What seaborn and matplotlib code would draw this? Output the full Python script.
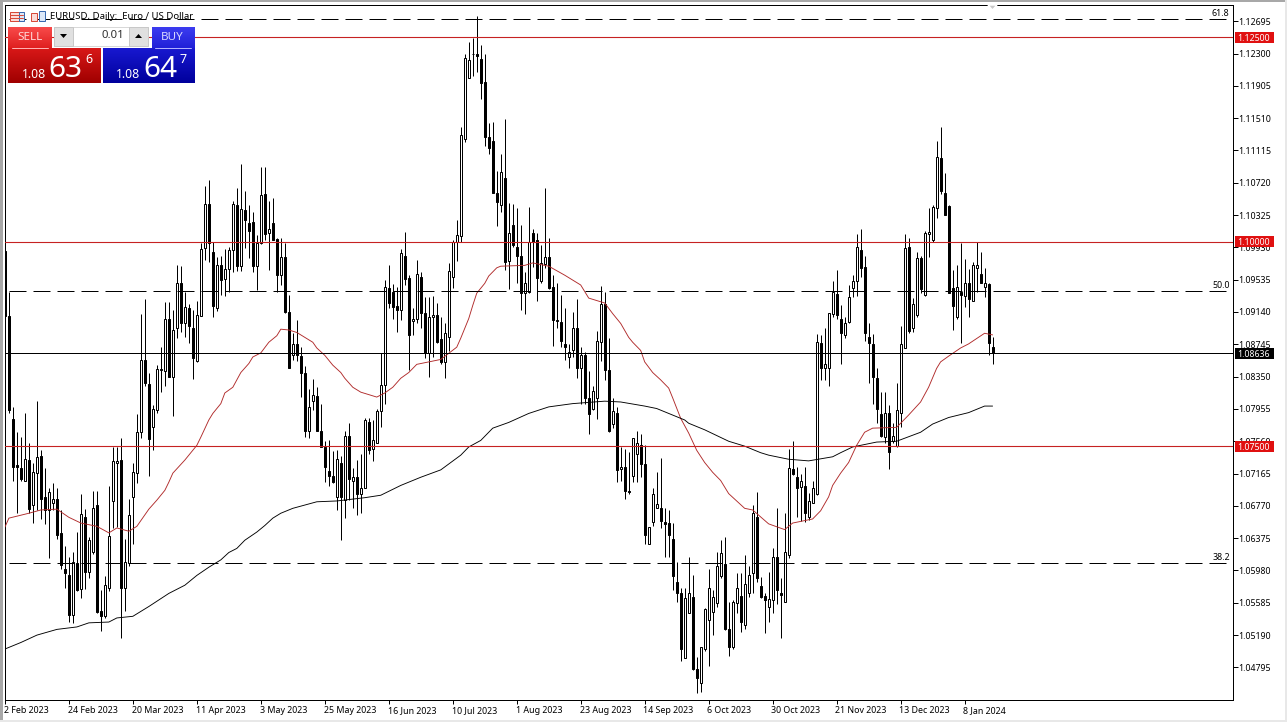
import numpy as np
import pandas as pd
import matplotlib
matplotlib.use('Agg')
import matplotlib.pyplot as plt
import seaborn as sns
from matplotlib.colors import LinearSegmentedColormap
from matplotlib.patches import Rectangle, Polygon
from matplotlib.transforms import blended_transform_factory, ScaledTranslation

# EURUSD daily candles, in 1/10000 of a dollar
opens = [10988,10909,10783,10727,10723,10708,10733,10678,10717,10738,
10688,10672,10681,10685,10644,10600,10592,10543,10607,10575,
10664,10596,10620,10678,10549,10542,10576,10683,10729,10733,
10576,10607,10688,10717,10767,10855,10826,10773,10794,10843,
10842,10905,10834,10894,10949,10900,10919,10895,10854,10909,
10992,11046,10987,10919,10971,10954,10966,10990,11045,10970,
11039,11023,11024,10970,10998,11058,11010,11023,11003,10959,
10981,10914,10861,10875,10860,10839,10768,10805,10811,10769,
10749,10720,10714,10688,10729,10684,10762,10708,10712,10691,
10699,10780,10746,10754,10793,10825,10943,10938,10921,10917,
10983,10955,10903,10905,10957,10913,10864,10908,10910,10881,
10853,10884,10957,11000,11007,11126,11200,11229,11230,11223,
11195,11128,11123,11060,11045,11078,10976,11020,10994,10982,
10937,10938,11010,11002,10952,10973,10981,10944,10903,10902,
10875,10859,10867,10895,10845,10862,10809,10795,10809,10877,
10924,10843,10777,10790,10722,10725,10695,10713,10741,10752,
10728,10631,10657,10675,10675,10657,10656,10637,10584,10571,
10491,10546,10565,10477,10461,10502,10537,10547,10558,10591,
10606,10526,10504,10558,10567,10531,10570,10595,10663,10579,
10567,10553,10562,10615,10571,10560,10617,10722,10712,10700,
10701,10664,10681,10691,10876,10846,10845,10911,10936,10906,
10886,10902,10943,10952,10990,10969,10883,10875,10833,10789,
10761,10790,10756,10750,10791,10870,10993,10895,10910,10980,
10935,11009,11002,11041,11102,11060,11043,10943,10908,10938,
10933,10949,10927,10968,10961,10944,10948,10871]
highs = [10988,10938,10798,10767,10761,10791,10754,10729,10805,10745,
10723,10699,10705,10699,10672,10628,10615,10620,10645,10691,
10673,10639,10695,10695,10574,10591,10701,10749,10749,10760,
10636,10685,10730,10789,10912,10930,10839,10800,10849,10871,
10926,10926,10916,10972,10970,10938,10924,10917,10928,10998,
11068,11075,10999,10981,10983,10991,10993,11050,11065,11095,
11062,11045,11036,11008,11091,11091,11050,11053,11005,11005,
10998,10935,10888,10904,10871,10848,10820,10832,10822,10801,
10756,10758,10744,10745,10738,10768,10778,10723,10733,10740,
10785,10784,10782,10796,10864,10953,10971,10948,10944,10991,
11012,10959,10919,10977,10963,10932,10932,10933,10925,10908,
10900,10974,11002,11027,11140,11229,11244,11249,11276,11240,
11229,11145,11146,11086,11107,11150,11047,11046,11041,11020,
10963,11042,11015,11010,10996,11065,11004,10959,10950,10935,
10919,10875,10914,10930,10871,10865,10842,10823,10891,10946,
10938,10882,10809,10798,10749,10747,10743,10760,10768,10765,
10751,10651,10699,10718,10736,10674,10672,10656,10608,10577,
10577,10615,10592,10492,10504,10552,10600,10574,10620,10635,
10639,10559,10562,10595,10595,10617,10603,10678,10694,10590,
10570,10596,10625,10674,10589,10668,10746,10756,10724,10716,
10724,10693,10707,10887,10886,10895,10913,10952,10965,10922,
10908,10947,10959,11009,11016,10982,10900,10887,10846,10816,
10816,10800,10778,10827,10897,11009,11004,10931,10987,10982,
11013,11041,11045,11123,11140,11084,11045,10965,10972,10998,
10979,10966,10975,10999,10987,10968,10950,10884]
lows = [10906,10791,10708,10668,10708,10707,10668,10656,10672,10661,
10655,10613,10672,10637,10600,10576,10535,10534,10573,10564,
10575,10589,10618,10546,10524,10540,10573,10650,10651,10516,
10549,10604,10630,10705,10760,10823,10713,10745,10790,10816,
10823,10835,10787,10882,10889,10883,10876,10832,10853,10909,
10977,10975,10908,10915,10935,10933,10938,10963,10964,10964,
10992,10980,10963,10941,10997,11002,10965,11002,10938,10947,
10913,10846,10855,10854,10810,10761,10760,10794,10768,10749,
10706,10701,10705,10672,10635,10662,10684,10674,10666,10668,
10699,10741,10732,10754,10773,10802,10919,10906,10890,10904,
10947,10843,10886,10900,10895,10858,10834,10859,10876,10851,
10833,10866,10943,10976,10999,11122,11200,11202,11207,11174,
11117,11107,11059,11019,11036,10965,10942,10993,10950,10916,
10911,10937,10969,10928,10950,10968,10942,10873,10895,10871,
10855,10845,10859,10833,10802,10802,10765,10794,10783,10854,
10831,10767,10772,10706,10708,10686,10692,10706,10706,10712,
10631,10631,10653,10674,10650,10615,10614,10574,10560,10487,
10491,10546,10476,10448,10450,10499,10481,10519,10553,10589,
10525,10494,10502,10546,10523,10527,10565,10570,10584,10564,
10521,10535,10546,10557,10515,10560,10613,10715,10663,10658,
10657,10660,10681,10690,10831,10831,10823,10908,10906,10851,
10882,10900,10932,10933,10957,10878,10827,10802,10778,10761,
10754,10722,10754,10749,10773,10870,10888,10889,10908,10937,
10933,10981,10999,11029,11058,11032,10937,10892,10905,10876,
10920,10908,10927,10938,10949,10932,10861,10850]
closes = [10909,10794,10724,10724,10710,10734,10673,10719,10737,10685,
10672,10694,10685,10642,10605,10595,10543,10608,10574,10667,
10596,10635,10674,10547,10542,10580,10640,10732,10732,10576,
10608,10666,10718,10767,10855,10827,10759,10796,10844,10844,
10905,10835,10892,10949,10900,10920,10897,10858,10910,10991,
11046,10998,10921,10971,10953,10966,10990,11046,10970,11040,
11026,11013,10970,10998,11057,11009,11016,11002,10959,10981,
10914,10846,10875,10861,10839,10768,10798,10812,10768,10749,
10724,10713,10706,10734,10688,10762,10710,10712,10692,10699,
10782,10745,10757,10793,10825,10944,10925,10920,10917,10986,
10954,10886,10906,10960,10913,10864,10908,10910,10877,10853,
10888,10964,11000,11008,11130,11225,11222,11230,11227,11194,
11128,11114,11060,11049,11085,10975,11010,10996,10983,10937,
10949,10999,10999,10955,10974,10981,10943,10904,10904,10878,
10871,10865,10895,10845,10862,10809,10789,10817,10878,10924,
10843,10768,10793,10721,10725,10695,10694,10760,10754,10728,
10641,10651,10691,10679,10658,10655,10642,10591,10571,10502,
10564,10571,10477,10466,10504,10551,10577,10565,10604,10619,
10526,10505,10559,10576,10535,10581,10592,10668,10589,10565,
10562,10563,10614,10574,10568,10620,10723,10716,10699,10707,
10668,10683,10699,10877,10846,10851,10913,10938,10910,10888,
10900,10932,10952,10994,10968,10888,10876,10834,10796,10762,
10791,10743,10763,10794,10875,10992,10891,10924,10980,10942,
11010,11012,11042,11104,11062,11032,10937,10921,10944,10935,
10949,10930,10972,10972,10949,10950,10876,10864]

# moving averages, sampled along the curves
red_bars = [0,1,6,9,13,16,19,23,26,28,31,33,36,38,40,41,42,45,48,49,51,52,54,55,57,59,61,62,64,66,68,69,71,73,75,
            77,78,80,82,84,85,87,89,91,93,95,97,99,101,103,109,113,114,116,117,118,120,121,123,124,130,132,136,
            140,144,146,150,152,154,156,157,159,160,162,164,166,167,169,171,173,175,177,179,181,185,187,191,195,
            197,202,204,206,207,209,211,213,215,217,223,226,229,231,233,234,236,239,241,245,247]
red_ma = [10651,10662,10668,10672,10673,10663,10656,10652,10644,10650,10646,10652,10673,10684,10696,10706,10717,
          10733,10751,10761,10782,10790,10802,10815,10822,10840,10851,10859,10864,10877,10885,10893,10892,10889,
          10883,10877,10870,10861,10849,10840,10833,10822,10816,10813,10810,10815,10822,10833,10840,10850,10856,
          10871,10882,10906,10922,10937,10949,10958,10968,10970,10971,10974,10970,10959,10947,10931,10925,10912,
          10900,10883,10877,10867,10853,10840,10831,10821,10809,10784,10766,10745,10730,10718,10708,10692,10674,
          10672,10655,10648,10656,10661,10671,10688,10702,10717,10730,10751,10767,10772,10773,10788,10804,10822,
          10845,10853,10860,10870,10875,10888,10886]
black_bars = [0,4,8,13,18,21,26,28,32,36,41,45,48,51,54,56,58,60,63,65,67,69,72,78,83,90,94,99,104,109,114,116,
              119,122,126,131,136,142,150,154,160,163,166,170,171,175,178,181,185,189,191,196,201,207,209,212,
              215,218,223,229,232,236,241,245,247]
black_ma = [10502,10510,10519,10526,10529,10534,10535,10540,10542,10554,10570,10580,10592,10602,10611,10620,
            10625,10635,10645,10653,10662,10668,10674,10682,10683,10687,10690,10702,10712,10721,10739,10749,
            10757,10772,10779,10790,10798,10802,10805,10804,10799,10796,10790,10782,10778,10770,10763,10756,
            10750,10742,10739,10734,10732,10737,10742,10749,10752,10755,10756,10767,10777,10785,10791,10799,10799]

date_ticks = [0,16,32,48,64,80,96,112,128,144,160,176,192,208,224,240]
date_labels = ['2 Feb 2023','24 Feb 2023','20 Mar 2023','11 Apr 2023','3 May 2023','25 May 2023',
               '16 Jun 2023','10 Jul 2023','1 Aug 2023','23 Aug 2023','14 Sep 2023','6 Oct 2023',
               '30 Oct 2023','21 Nov 2023','13 Dec 2023','8 Jan 2024']
price_ticks = [1.12695,1.12300,1.11905,1.11510,1.11115,1.10720,1.10325,1.09930,1.09535,1.09140,1.08745,
               1.08350,1.07955,1.07560,1.07165,1.06770,1.06375,1.05980,1.05585,1.05190,1.04795]
red_levels = [1.125, 1.10, 1.075]
last_price = 1.08636
fib_levels = [1.1272, 1.0940, 1.0607]
fib_labels = ['61.8', '50.0', '38.2']

W, H = 1287, 722
PX = 0.72  # one pixel in points at dpi 100
FONT = 'Noto Sans'

sns.set_theme(style='white')
plt.rcParams['font.family'] = [FONT, 'DejaVu Sans']

df = pd.DataFrame({'bar': range(len(opens)), 'open': opens, 'high': highs, 'low': lows, 'close': closes})
df[['open', 'high', 'low', 'close']] /= 10000
df['top'] = df[['open', 'close']].max(axis=1)
df['bot'] = df[['open', 'close']].min(axis=1)
df['fill'] = np.where(df['close'] >= df['open'], 'white', 'black')

fig = plt.figure(figsize=(W / 100, H / 100), dpi=100, facecolor='white')
ax = fig.add_axes([4.5 / W, 1 - 699.5 / H, (1232.5 - 4.5) / W, (699.5 - 4.5) / H])

ax.vlines(df['bar'], df['low'], df['high'], color='black', lw=PX, zorder=2)
ax.bar(df['bar'], df['top'] - df['bot'], bottom=df['bot'], width=0.5, color=df['fill'],
       edgecolor='black', linewidth=PX, zorder=3)

sns.lineplot(x=red_bars, y=np.array(red_ma) / 10000, ax=ax, color='#b02a2a', lw=0.65, zorder=4, estimator=None)
sns.lineplot(x=black_bars, y=np.array(black_ma) / 10000, ax=ax, color='black', lw=0.65, zorder=4, estimator=None)

for level in red_levels:
    ax.axhline(level, color='#c62222', lw=PX * 1.1, zorder=4)
ax.axhline(last_price, color='black', lw=PX, zorder=4)
for level, label in zip(fib_levels, fib_labels):
    ax.hlines(level, 1, 305.5, color='black', lw=PX, linestyles=(0, (17, 7)), zorder=4)
    ax.annotate(label, xy=(306.3, level), xytext=(0, 2.2), textcoords='offset points',
                ha='right', va='baseline', fontsize=6.4, color='black')

ax.set_xlim(-0.1, 307)
ax.set_ylim(1.04403, 1.12899)
ax.set_xlabel('')
ax.set_ylabel('')
ax.set_xticks(date_ticks)
ax.set_xticklabels(date_labels, ha='left', fontsize=6.4)
ax.set_yticks(price_ticks)
ax.set_yticklabels([f'{p:.5f}' for p in price_ticks], fontsize=6.3)
ax.yaxis.tick_right()
ax.tick_params(axis='x', bottom=True, length=3, width=PX, pad=1.5, color='black', labelcolor='black')
ax.tick_params(axis='y', right=True, length=3.4, width=PX, pad=1, color='black', labelcolor='black')
for tick_label in ax.get_xticklabels():
    tick_label.set_transform(tick_label.get_transform() + ScaledTranslation(-1.2 / 100, 0, fig.dpi_scale_trans))
for spine in ax.spines.values():
    spine.set_color('black')
    spine.set_linewidth(PX)

# coloured price tags on the right scale
tag_trans = blended_transform_factory(fig.transFigure, ax.transData)
for level, colour in [(1.125, '#e01010'), (1.10, '#e01010'), (1.075, '#e01010'), (last_price, 'black')]:
    ax.add_patch(Rectangle((1235 / W, level - 0.00068), 39 / W, 0.00136, transform=tag_trans,
                           facecolor=colour, edgecolor='none', clip_on=False, zorder=6))
    ax.text(1237.5 / W, level, f'{level:.5f}', transform=tag_trans, color='white', fontsize=6.3,
            ha='left', va='center_baseline', clip_on=False, zorder=7)

# trading panel, title and window frame, laid out in pixels
ui = fig.add_axes([0, 0, 1, 1], zorder=10, facecolor='none')
ui.axis('off')


def gradient(x0, y0, x1, y1, c_top, c_bot):
    cmap = LinearSegmentedColormap.from_list('g', [c_top, c_bot])
    ui.imshow(np.linspace(0, 1, 32)[:, None], cmap=cmap, extent=(x0, x1, y1, y0), aspect='auto', zorder=1)


gradient(8, 27, 52, 48, '#f84a4a', '#e02020')
gradient(8, 48, 101, 83, '#d81818', '#a00000')
gradient(152, 27, 195, 48, '#3c3cf0', '#2020d8')
gradient(103, 48, 195, 83, '#1818d0', '#00009c')
ui.add_patch(Rectangle((54, 27), 94, 19, facecolor='white', edgecolor='#d8d8d8', lw=PX, zorder=1))
ui.add_patch(Rectangle((54, 27), 19, 19, facecolor='#e0e0e0', edgecolor='#c8c8c8', lw=PX, zorder=2))
ui.add_patch(Rectangle((129, 27), 19, 19, facecolor='#e0e0e0', edgecolor='#c8c8c8', lw=PX, zorder=2))
ui.add_patch(Polygon([(60, 34), (67, 34), (63.5, 38)], facecolor='black', edgecolor='none', zorder=3))
ui.add_patch(Polygon([(135, 38), (142, 38), (138.5, 34)], facecolor='black', edgecolor='none', zorder=3))
ui.plot([12, 48], [47.5, 47.5], color='#ffb0b0', lw=PX, zorder=3)
ui.plot([155, 191], [47.5, 47.5], color='#b0b0ff', lw=PX, zorder=3)

ui.text(17, 37, 'SELL', color='#ffd8d8', fontsize=8.4, va='center', zorder=4)
ui.text(161, 37, 'BUY', color='#d8d8ff', fontsize=8.4, va='center', zorder=4)
ui.text(124, 36, '0.01', color='#303030', fontsize=8.2, ha='right', va='center', zorder=4)
ui.text(22, 78, '1.08', color='white', fontsize=8.8, fontweight='bold', va='baseline', zorder=4)
ui.text(48, 77, '63', color='white', fontsize=21.5, va='baseline', zorder=4)
ui.text(85, 63, '6', color='white', fontsize=9, fontweight='bold', va='baseline', zorder=4)
ui.text(116, 78, '1.08', color='white', fontsize=8.8, fontweight='bold', va='baseline', zorder=4)
ui.text(143, 77, '64', color='white', fontsize=21.5, va='baseline', zorder=4)
ui.text(180, 63, '7', color='white', fontsize=9, fontweight='bold', va='baseline', zorder=4)

ui.text(50, 19, 'EURUSD, Daily:  Euro / US Dollar', color='black', fontsize=6.9, va='baseline', zorder=4)

# small icons beside the title
ui.add_patch(Rectangle((9.5, 11.5), 9, 9, facecolor='#fbdcd8', edgecolor='#d84a3a', lw=PX, zorder=3))
ui.add_patch(Rectangle((18.5, 11.5), 5, 9, facecolor='#dce8f8', edgecolor='#3a6ab0', lw=PX, zorder=3))
for yy in (14.5, 17.5):
    ui.plot([10, 23], [yy, yy], color='#d84a3a', lw=PX, zorder=4)
ui.add_patch(Rectangle((30.5, 12.5), 6, 8, facecolor='#fbdcd8', edgecolor='#d84a3a', lw=PX, zorder=3))
ui.add_patch(Rectangle((38.5, 10.5), 6, 10, facecolor='#dce8f8', edgecolor='#3a6ab0', lw=PX, zorder=3))

# chart shift marker and window edges
ui.add_patch(Polygon([(988, 5), (997, 5), (992.5, 10)], facecolor='#c8c8c8', zorder=3))
ui.add_patch(Rectangle((0, 0), 2.5, H, facecolor='#a8a8a8', edgecolor='none', zorder=5))
ui.add_patch(Rectangle((0, 0), W, 1.5, facecolor='#a8a8a8', edgecolor='none', zorder=5))
ui.add_patch(Rectangle((0, 719.5), W, 2.5, facecolor='#e8e8e8', edgecolor='none', zorder=5))
ui.add_patch(Rectangle((1285, 0), 2, H, facecolor='#e8e8e8', edgecolor='none', zorder=5))

ui.set_xlim(0, W)
ui.set_ylim(H, 0)

fig.savefig('out.png', dpi=100, facecolor='white')
